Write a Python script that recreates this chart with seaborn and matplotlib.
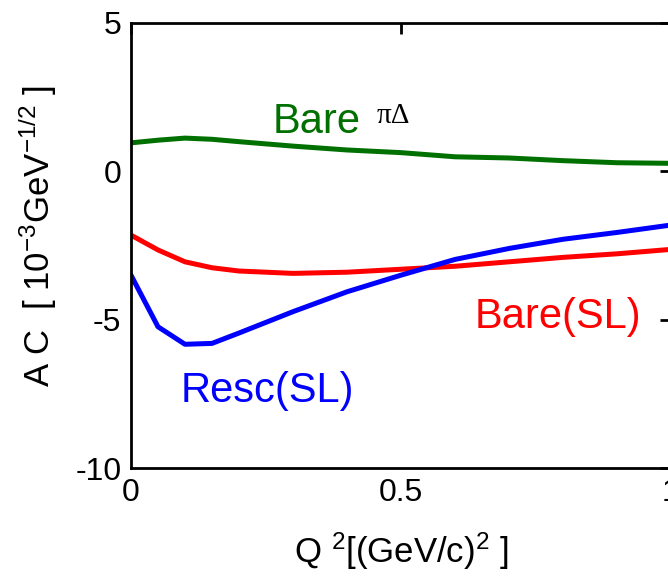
import matplotlib
matplotlib.use("Agg")
import matplotlib.pyplot as plt
import seaborn as sns
import pandas as pd

q2 = [0.0, 0.05, 0.1, 0.15, 0.2, 0.3, 0.4, 0.5, 0.6, 0.7, 0.8, 0.9, 1.0]
bare_pid = [0.96, 1.05, 1.12, 1.08, 1.0, 0.85, 0.72, 0.63, 0.49, 0.45, 0.36, 0.29, 0.27]
bare_sl = [-2.15, -2.65, -3.05, -3.25, -3.36, -3.44, -3.4, -3.3, -3.2, -3.05, -2.9, -2.78, -2.63]
resc_sl = [-3.5, -5.24, -5.83, -5.8, -5.45, -4.73, -4.06, -3.5, -2.97, -2.6, -2.29, -2.06, -1.81]

series = ["Bare piDelta", "Bare(SL)", "Resc(SL)"]
colors = {"Bare piDelta": "#007000", "Bare(SL)": "#ff0000", "Resc(SL)": "#0000ff"}

df = pd.concat([
    pd.DataFrame({"x": q2, "y": bare_pid, "s": series[0]}),
    pd.DataFrame({"x": q2, "y": bare_sl, "s": series[1]}),
    pd.DataFrame({"x": q2, "y": resc_sl, "s": series[2]}),
])

sns.set_style("white")
plt.rcParams["font.family"] = ["Liberation Sans", "DejaVu Sans"]
plt.rcParams["mathtext.fontset"] = "custom"
plt.rcParams["mathtext.rm"] = "Liberation Sans"
plt.rcParams["mathtext.it"] = "Liberation Sans"
plt.rcParams["text.color"] = "black"

fig = plt.figure(figsize=(6.68, 5.76), dpi=100)
ax = fig.add_axes([131 / 668, 108 / 576, 540 / 668, 445 / 576])

sns.lineplot(data=df, x="x", y="y", hue="s", palette=colors, linewidth=3.6,
             legend=False, ax=ax, sort=False)

ax.set_xlim(0, 1)
ax.set_ylim(-10, 5)
ax.set_xticks([0, 0.5, 1])
ax.set_xticklabels(["0", "0.5", "1"])
ax.set_yticks([-10, -5, 0, 5])
ax.set_yticklabels(["-10", "-5", "0", "5"])
ax.tick_params(direction="in", length=8, width=2, labelsize=23,
               top=True, right=True, colors="black", pad=7)
for sp in ax.spines.values():
    sp.set_linewidth(2)
    sp.set_color("black")
ax.set_xlabel("")
ax.set_ylabel("")

ax.text(0.343, 1.29, "Bare", color="#007000", fontsize=30, ha="center", va="baseline")
ax.text(0.455, 1.63, "\u03c0\u0394", color="black", fontsize=21, ha="left", va="baseline",
        family=["Liberation Serif", "DejaVu Serif"])
ax.text(0.253, -7.77, "Resc(SL)", color="#0000ff", fontsize=30, ha="center", va="baseline")
ax.text(0.79, -5.28, "Bare(SL)", color="#ff0000", fontsize=30, ha="center", va="baseline")

fig.text(38 / 668, 1 - 236 / 576, r"A C  [ 10$^{-3}$GeV$^{-1/2}$ ]",
         rotation=90, fontsize=25, ha="center", va="center", color="black")
fig.text(401 / 668, 1 - 551 / 576, r"Q $^{2}$[(GeV/c)$^{2}$ ]",
         fontsize=25, ha="center", va="center", color="black")

fig.savefig("out.png", dpi=100)
